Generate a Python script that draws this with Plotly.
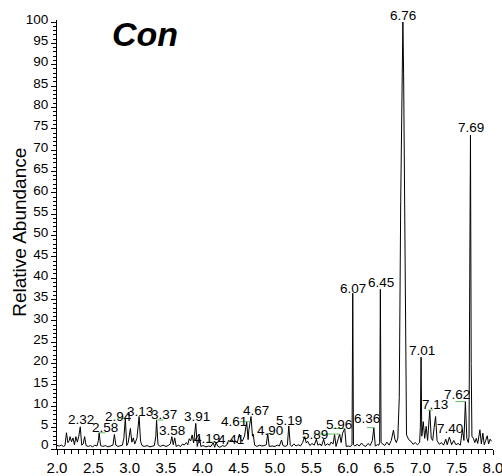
import plotly.graph_objects as go

# ---------------- data ----------------
rt = [2.00, 2.03, 2.06, 2.09, 2.11, 2.13, 2.15, 2.17, 2.18, 2.20, 2.22, 2.24, 2.26, 2.28, 2.30,
      2.32, 2.34, 2.36, 2.38, 2.40, 2.43, 2.46, 2.49, 2.52, 2.55, 2.57, 2.58, 2.60, 2.63, 2.67,
      2.70, 2.74, 2.77, 2.79, 2.81, 2.84, 2.87, 2.90, 2.92, 2.94, 2.96, 2.98, 3.01, 3.03, 3.05,
      3.07, 3.10, 3.13, 3.15, 3.17, 3.20, 3.24, 3.28, 3.31, 3.34, 3.36, 3.37, 3.39, 3.42, 3.46,
      3.50, 3.53, 3.56, 3.58, 3.60, 3.62, 3.64, 3.67, 3.70, 3.73, 3.75, 3.78, 3.80, 3.82, 3.84,
      3.86, 3.88, 3.91, 3.93, 3.96, 3.98, 4.01, 4.05, 4.09, 4.12, 4.15, 4.17, 4.19, 4.21, 4.24,
      4.28, 4.31, 4.34, 4.36, 4.38, 4.41, 4.43, 4.46, 4.48, 4.51, 4.53, 4.55, 4.58, 4.61, 4.63,
      4.64, 4.67, 4.69, 4.70, 4.72, 4.75, 4.79, 4.82, 4.85, 4.88, 4.90, 4.92, 4.96, 5.00, 5.03,
      5.06, 5.09, 5.11, 5.14, 5.17, 5.19, 5.21, 5.23, 5.26, 5.29, 5.32, 5.35, 5.38, 5.41, 5.43,
      5.45, 5.48, 5.51, 5.54, 5.57, 5.59, 5.62, 5.64, 5.67, 5.69, 5.72, 5.75, 5.77, 5.80, 5.82,
      5.84, 5.87, 5.89, 5.91, 5.93, 5.96, 5.98, 6.01, 6.04, 6.06, 6.07, 6.08, 6.10, 6.13, 6.16,
      6.19, 6.22, 6.25, 6.28, 6.31, 6.34, 6.36, 6.38, 6.41, 6.43, 6.44, 6.45, 6.46, 6.48, 6.51,
      6.54, 6.57, 6.60, 6.63, 6.65, 6.67, 6.69, 6.71, 6.73, 6.75, 6.76, 6.77, 6.785, 6.80, 6.81,
      6.84, 6.87, 6.90, 6.93, 6.96, 6.99, 7.00, 7.01, 7.02, 7.04, 7.06, 7.08, 7.10, 7.13, 7.15,
      7.17, 7.19, 7.21, 7.23, 7.26, 7.29, 7.32, 7.35, 7.37, 7.40, 7.43, 7.46, 7.49, 7.52, 7.55,
      7.58, 7.60, 7.62, 7.64, 7.66, 7.67, 7.68, 7.69, 7.70, 7.71, 7.73, 7.75, 7.77, 7.79, 7.82,
      7.84, 7.86, 7.88, 7.90, 7.92, 7.94, 7.96, 7.98]

abundance = [0.8, 0.7, 0.9, 0.6, 0.8, 3.8, 1.5, 2.0, 2.9, 1.7, 2.6, 1.0, 2.9, 1.6, 3.0,
             5.2, 0.9, 1.2, 2.9, 0.8, 0.6, 0.8, 0.5, 0.9, 0.7, 2.0, 3.8, 0.8, 0.6, 0.8,
             0.5, 0.7, 0.9, 3.4, 0.9, 0.6, 0.8, 0.9, 2.5, 7.2, 0.8, 1.5, 4.8, 1.6, 2.6,
             1.2, 2.5, 7.6, 1.8, 0.8, 0.6, 0.8, 0.5, 0.7, 0.8, 3.0, 6.8, 1.0, 0.6, 0.9,
             0.6, 0.8, 1.2, 2.9, 1.0, 2.6, 0.6, 0.9, 0.6, 1.2, 0.9, 1.5, 1.0, 2.4, 1.9,
             3.3, 1.4, 6.0, 0.6, 2.9, 0.6, 0.8, 0.5, 0.7, 0.6, 1.5, 0.4, 1.6, 0.7, 0.4,
             0.8, 0.6, 1.0, 2.0, 1.8, 2.2, 1.6, 1.9, 1.4, 3.5, 2.2, 1.8, 3.0, 6.4, 2.2,
             4.4, 7.6, 3.0, 3.5, 0.9, 0.6, 0.9, 0.7, 0.8, 1.0, 3.6, 0.6, 0.7, 0.6, 0.9,
             0.7, 2.1, 0.8, 0.6, 0.9, 5.4, 1.0, 0.6, 1.2, 0.7, 1.0, 0.7, 1.5, 2.9, 1.4,
             1.8, 0.8, 1.3, 0.9, 2.3, 0.9, 1.2, 0.7, 2.3, 0.8, 1.2, 0.9, 1.6, 1.2, 3.4,
             0.6, 2.4, 3.5, 1.5, 3.7, 4.8, 0.6, 0.7, 0.6, 1.0, 36.5, 1.0, 0.7, 1.1, 0.7,
             1.4, 0.8, 0.6, 1.3, 0.8, 2.0, 5.0, 0.7, 1.0, 0.9, 1.5, 37.4, 1.5, 1.2, 0.8,
             1.6, 0.9, 2.0, 4.4, 2.3, 1.5, 2.5, 12.0, 58.0, 95.0, 100.0, 88.0, 58.0, 10.0, 3.3,
             2.2, 1.8, 1.1, 1.5, 1.0, 1.5, 5.0, 21.5, 3.0, 6.4, 2.5, 5.3, 2.0, 9.1, 2.5,
             2.0, 5.0, 7.6, 2.0, 1.1, 1.5, 0.9, 2.3, 1.0, 2.8, 1.0, 2.0, 1.0, 1.3, 0.9,
             4.6, 2.0, 11.1, 2.5, 1.5, 3.0, 40.0, 73.5, 20.0, 3.0, 2.5, 1.5, 2.5, 1.3, 4.5,
             1.2, 3.7, 1.0, 2.0, 3.1, 1.2, 2.3, 1.8]

peak_labels = ["2.32", "2.58", "2.94", "3.13", "3.37", "3.58", "3.91", "4.19", "4.41",
               "4.61", "4.67", "4.90", "5.19", "5.89", "5.96", "6.07", "6.36", "6.45",
               "6.76", "7.01", "7.13", "7.40", "7.62", "7.69"]

x_ticks = [2.0, 2.5, 3.0, 3.5, 4.0, 4.5, 5.0, 5.5, 6.0, 6.5, 7.0, 7.5, 8.0]
y_ticks = list(range(0, 101, 5))

title_text = "Con"
y_title = "Relative Abundance"

# ---------------- label placement (pixel offsets from the peak apex) ----------------
label_offsets = {
    "2.32": (1, 7), "2.58": (6, 5), "2.94": (-7, 2), "3.13": (1, 5.5), "3.37": (7, 5),
    "3.58": (0, 6.5), "3.91": (1, 6.5), "4.19": (-9, 3.5), "4.41": (-1, 0),
    "4.61": (-13, 0), "4.67": (5, 6.5), "4.90": (2.5, 3), "5.19": (0, 5.5),
    "5.89": (-25, 0), "5.96": (-6, 4.5), "6.07": (0, 5), "6.36": (-7, 9),
    "6.45": (1, 7), "6.76": (0.5, 6.7), "7.01": (0.5, 7), "7.13": (5, 5.5),
    "7.40": (1, 9), "7.62": (-8, 7.5), "7.69": (0.5, 8),
}
leaders = {
    "2.58": (0, 6), "2.94": (-8, 1), "3.37": (0, 7), "4.19": (-9, 0), "4.61": (-7, 3),
    "4.90": (0, 5), "5.89": (-26, 0), "5.96": (-12, 0), "6.36": (-7, 0), "7.13": (-2, 3),
    "7.62": (-10, 0),
}

FONT = "Liberation Sans, Arial, Helvetica, sans-serif"


def apex(t):
    best = None
    for xi, yi in zip(rt, abundance):
        if abs(xi - t) <= 0.012 and (best is None or yi > best[1]):
            best = (xi, yi)
    return best


fig = go.Figure()
fig.add_trace(go.Scatter(x=rt, y=abundance, mode="lines",
                         line=dict(color="black", width=1), hoverinfo="skip"))

annotations = []
shapes = []
for lab in peak_labels:
    px, py = apex(float(lab))
    dx, dy = label_offsets[lab]
    annotations.append(dict(x=px, y=py, xref="x", yref="y", text=lab, showarrow=False,
                            xanchor="center", yanchor="middle", xshift=dx, yshift=dy,
                            font=dict(family=FONT, size=13.5, color="black")))
    if lab in leaders:
        g0, g1 = leaders[lab]
        shapes.append(dict(type="line", xref="x", yref="y", xsizemode="pixel", xanchor=px,
                           x0=g0, x1=g1, y0=py, y1=py,
                           line=dict(color="#5cc05c", width=1)))

# title and y-axis title
annotations.append(dict(x=0.2018, y=0.967, xref="paper", yref="paper", text="<b><i>" + title_text + "</i></b>",
                        showarrow=False, xanchor="center", yanchor="middle",
                        font=dict(family=FONT, size=34, color="black")))
annotations.append(dict(x=-0.0878, y=0.5058, xref="paper", yref="paper", text=y_title,
                        showarrow=False, xanchor="center", yanchor="middle", textangle=-90,
                        font=dict(family=FONT, size=19, color="black")))
# the zero label sits slightly raised
annotations.append(dict(x=0, y=0, xref="paper", yref="y", text=str(y_ticks[0]), showarrow=False,
                        xanchor="right", yanchor="middle", xshift=-6, yshift=5,
                        font=dict(family=FONT, size=13.5, color="black")))

fig.update_layout(
    template="none",
    width=502, height=476,
    margin=dict(l=57, r=9, t=20, b=27, autoexpand=False),
    paper_bgcolor="white", plot_bgcolor="white", showlegend=False,
    font=dict(family=FONT, color="black", size=13),
    annotations=annotations, shapes=shapes,
    xaxis=dict(range=[2, 8], tickmode="array", tickvals=x_ticks,
               ticktext=[f"{v:.1f}" for v in x_ticks], automargin=False,
               ticklabeloverflow="allow",
               ticks="outside", ticklen=5, tickwidth=1, tickcolor="black",
               showline=True, linecolor="black", linewidth=1,
               showgrid=False, zeroline=False,
               tickfont=dict(family=FONT, size=15, color="black"),
               minor=dict(dtick=0.1, tick0=2, ticks="outside", ticklen=4, tickcolor="black",
                          tickwidth=1, showgrid=False)),
    yaxis=dict(range=[0, 100.47], tickmode="array", tickvals=y_ticks,
               ticktext=[""] + [str(v) for v in y_ticks[1:]], automargin=False,
               ticklabeloverflow="allow",
               ticks="outside", ticklen=5, tickwidth=1, tickcolor="black",
               showline=True, linecolor="black", linewidth=1,
               showgrid=False, zeroline=False, ticklabelshift=-3,
               tickfont=dict(family=FONT, size=13.5, color="black"),
               minor=dict(dtick=1, tick0=0, ticks="outside", ticklen=3, tickcolor="black",
                          tickwidth=1, showgrid=False)),
)

fig.write_html("out.html", config={"displayModeBar": False},
               post_script="document.body.style.margin='0';document.body.style.padding='0';")
